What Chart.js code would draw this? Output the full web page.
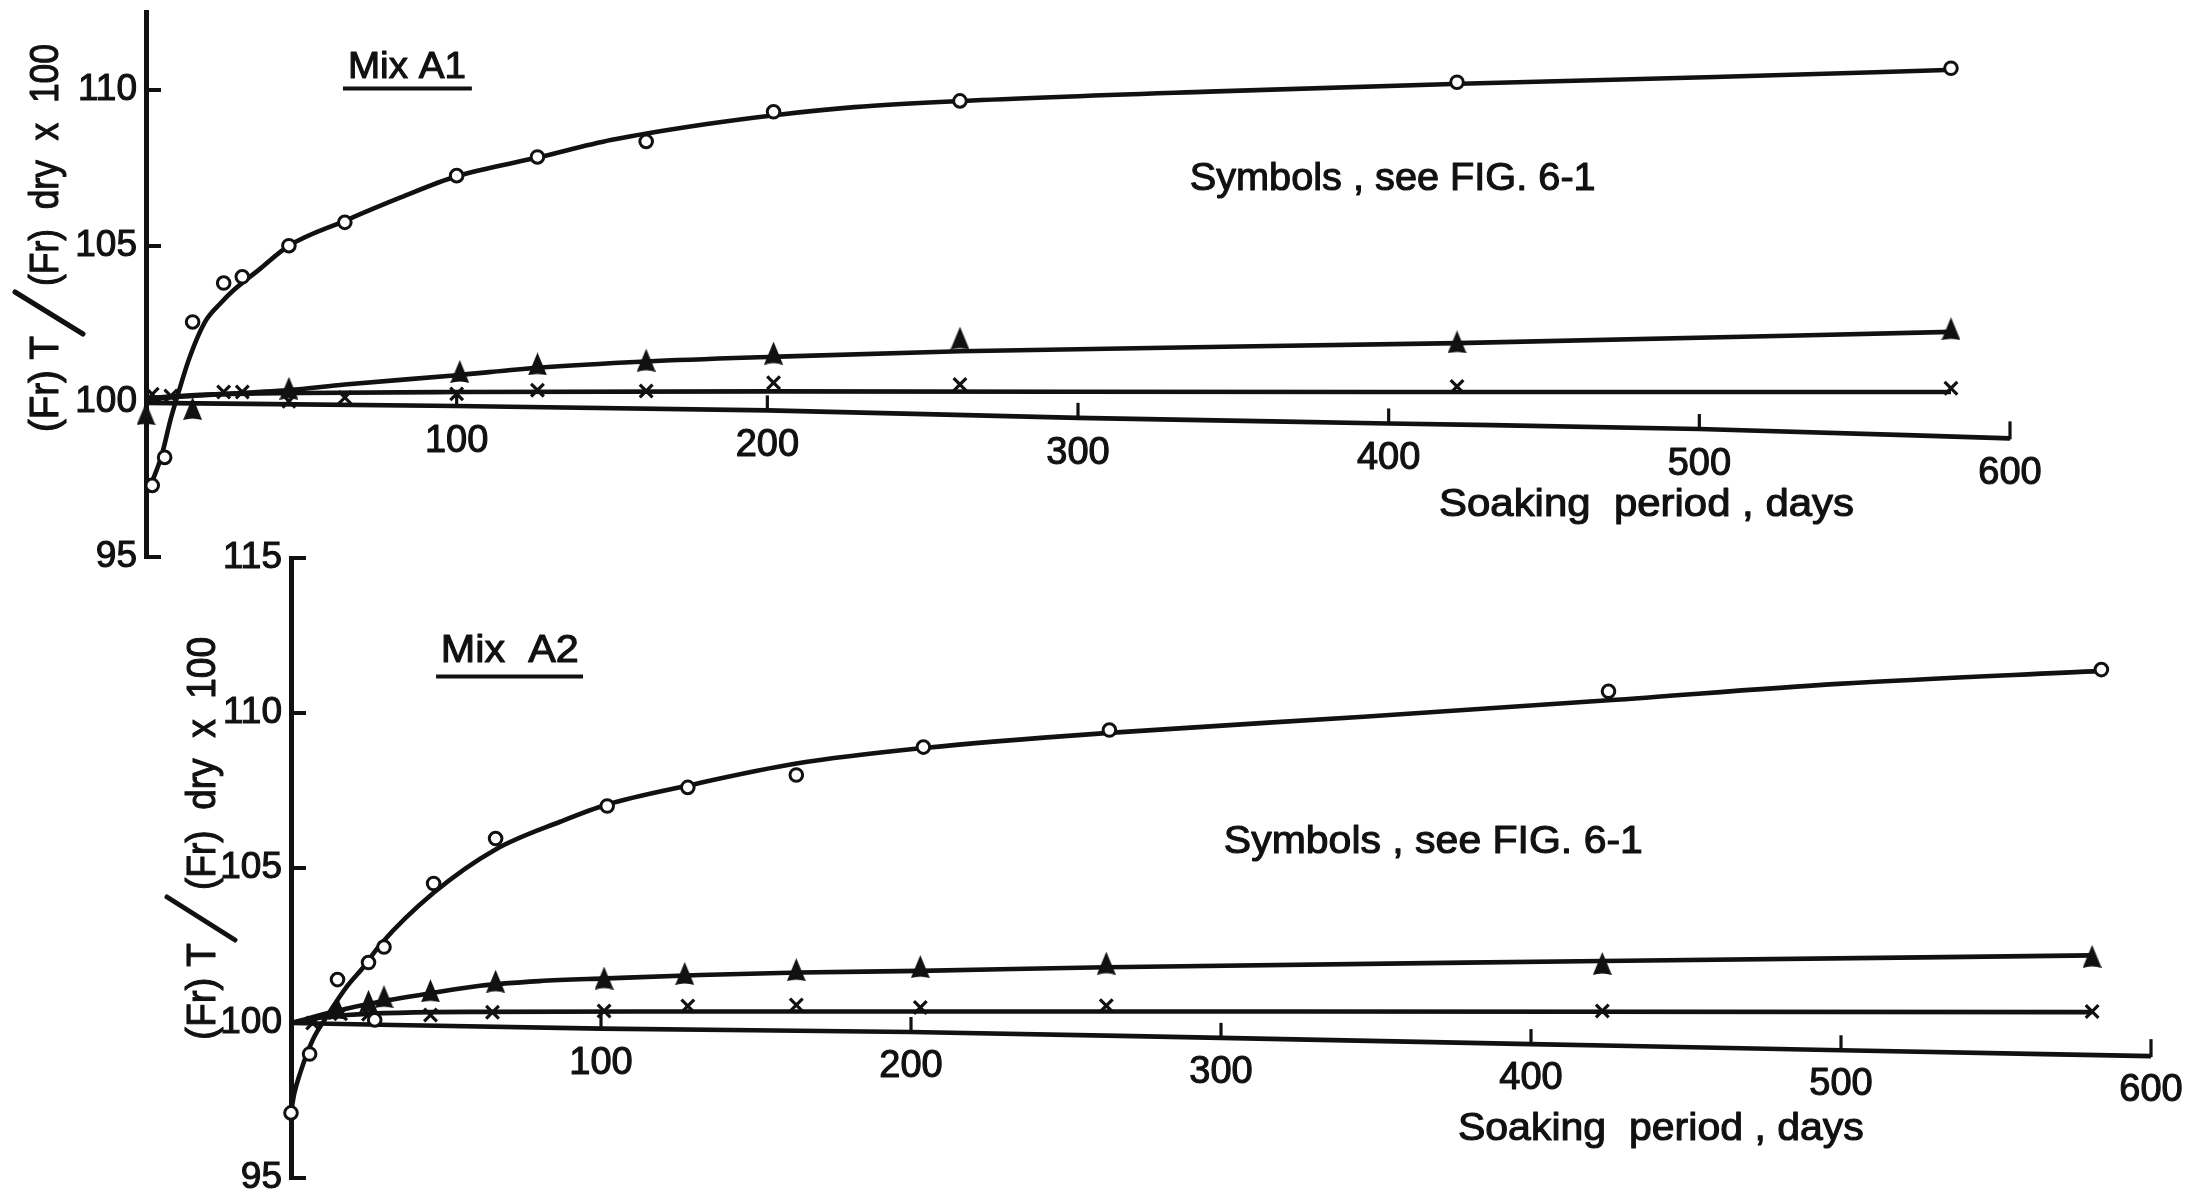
<!DOCTYPE html>
<html>
<head>
<meta charset="utf-8">
<title>Soaking period – Mix A1 / Mix A2</title>
<script src="https://cdn.jsdelivr.net/npm/chart.js@4.4.1/dist/chart.umd.min.js"></script>
<style>
  html, body { margin: 0; padding: 0; background: #fff; }
  body { width: 2186px; height: 1198px; position: relative; overflow: hidden; }
  canvas { position: absolute; left: 0; top: 0; }
</style>
</head>
<body>
<canvas id="mixA1" width="2186" height="1198"></canvas>
<canvas id="mixA2" width="2186" height="1198"></canvas>
<script>
// ---------- axes ----------
const dayTicks = [100, 200, 300, 400, 500, 600];
const axisDays = [0, 100, 200, 300, 400, 500, 600];
// the drawn day axis sags a little towards the right-hand end
const a1AxisValues = [99.95, 99.85, 99.71, 99.47, 99.29, 99.11, 98.81];
const a2AxisValues = [100.0, 99.82, 99.71, 99.52, 99.32, 99.12, 98.93];
const a1ValueTicks = [95, 100, 105, 110];
const a2ValueTicks = [95, 100, 105, 110, 115];

// ---------- Mix A1 ----------
const a1CircleDays   = [2, 6, 15, 25, 31, 46, 64, 100, 126, 161, 202, 262, 422, 581];
const a1CircleValues = [97.3, 98.2, 102.55, 103.8, 104.0, 105.0, 105.75, 107.25, 107.85, 108.35, 109.3, 109.65, 110.25, 110.7];
const a1TriangleDays   = [0, 15, 46, 101, 126, 161, 202, 262, 422, 581];
const a1TriangleValues = [99.6, 99.77, 100.42, 100.96, 101.2, 101.32, 101.55, 102.03, 101.91, 102.33];
const a1CrossDays   = [2, 8, 25, 31, 46, 64, 100, 126, 161, 202, 262, 422, 581];
const a1CrossValues = [100.23, 100.17, 100.3, 100.3, 100.0, 100.12, 100.24, 100.36, 100.33, 100.6, 100.54, 100.48, 100.42];

const a1CircleFitDays   = [1.3, 5, 8, 10.5, 14, 19, 24, 28, 36, 46, 64, 82, 100, 126, 150, 180, 203, 228, 263, 342, 423, 505, 582];
const a1CircleFitValues = [97.25, 98.25, 99.45, 100.3, 101.4, 102.55, 103.15, 103.55, 104.2, 105.0, 105.8, 106.55, 107.23, 107.83, 108.4, 108.9, 109.2, 109.45, 109.65, 109.95, 110.2, 110.42, 110.65];
const a1TriangleFitDays   = [0, 11, 46, 64, 100, 126, 161, 202, 262, 422, 581];
const a1TriangleFitValues = [100.05, 100.15, 100.36, 100.54, 100.84, 101.08, 101.28, 101.43, 101.61, 101.87, 102.23];
const a1CrossFitDays   = [0, 20, 50, 100, 200, 400, 581];
const a1CrossFitValues = [100.1, 100.22, 100.27, 100.3, 100.32, 100.3, 100.3];

// ---------- Mix A2 ----------
const a2CircleDays   = [0, 6, 15, 25, 27, 30, 46, 66, 102, 128, 163, 204, 264, 425, 584];
const a2CircleValues = [97.1, 99.0, 101.4, 101.95, 100.1, 102.45, 104.5, 105.95, 107.0, 107.6, 108.0, 108.9, 109.45, 110.7, 111.4];
const a2TriangleDays   = [15, 25, 30, 45, 66, 101, 127, 163, 203, 263, 423, 581];
const a2TriangleValues = [100.47, 100.7, 100.85, 101.04, 101.35, 101.45, 101.6, 101.72, 101.82, 101.93, 101.92, 102.15];
const a2CrossDays   = [7, 16, 25, 45, 65, 101, 128, 163, 203, 263, 423, 581];
const a2CrossValues = [100.0, 100.3, 100.28, 100.26, 100.35, 100.39, 100.55, 100.58, 100.5, 100.56, 100.39, 100.37];

const a2CircleFitDays   = [0, 1, 3, 7, 11.5, 18, 23, 29, 46, 66, 87, 102, 128, 163, 204, 264, 346, 425, 499, 584];
const a2CircleFitValues = [97.1, 97.7, 98.4, 99.45, 100.2, 101.17, 101.76, 102.55, 104.2, 105.6, 106.5, 107.05, 107.66, 108.37, 108.87, 109.36, 109.88, 110.41, 110.94, 111.36];
const a2TriangleFitDays   = [0, 14, 29, 45, 61, 80, 102, 132, 164, 203, 263, 423, 581];
const a2TriangleFitValues = [100.0, 100.37, 100.69, 100.96, 101.2, 101.35, 101.44, 101.55, 101.63, 101.68, 101.8, 102.0, 102.18];
const a2CrossFitDays   = [0, 8, 18, 61, 132, 300, 581];
const a2CrossFitValues = [100.0, 100.15, 100.26, 100.36, 100.37, 100.37, 100.35];

// ---------- drawing ----------
const INK = '#111';
const FONT = "'Liberation Sans', Arial, sans-serif";
Chart.defaults.font.family = FONT;
Chart.defaults.color = INK;

// solid triangle used as a marker
function triangleMark(w, h) {
  const c = document.createElement('canvas');
  c.width = w; c.height = h;
  const g = c.getContext('2d');
  g.fillStyle = INK;
  g.beginPath();
  g.moveTo(w / 2, 0);
  g.lineTo(w, h);
  g.quadraticCurveTo(w / 2, h - 3, 0, h);
  g.closePath();
  g.fill();
  return c;
}
const TRIANGLE = triangleMark(19, 23);

// text fitted horizontally to a given width, with a slightly heavy stroke
function fitText(ctx, text, x, y, size, width, align, baseline) {
  ctx.save();
  ctx.font = size + 'px ' + FONT;
  const natural = ctx.measureText(text).width;
  const sx = width ? width / natural : 1;
  ctx.translate(x, y);
  ctx.scale(sx, 1);
  ctx.textAlign = align || 'center';
  ctx.textBaseline = baseline || 'alphabetic';
  ctx.lineWidth = 1.1;
  ctx.lineJoin = 'round';
  ctx.fillText(text, 0, 0);
  ctx.strokeText(text, 0, 0);
  ctx.restore();
}

const panelDecor = {
  id: 'panelDecor',
  afterDraw(chart, args, o) {
    const { ctx } = chart;
    const xs = chart.scales.x, ys = chart.scales.y;
    const at = (d, v) => [xs.getPixelForValue(d), ys.getPixelForValue(v)];
    ctx.save();
    ctx.fillStyle = INK;
    ctx.strokeStyle = INK;

    // tick marks and labels along the day axis
    axisDays.forEach((d, i) => {
      if (!dayTicks.includes(d)) return;
      const [px, py] = at(d, o.axisValues[i]);
      ctx.lineWidth = 3.2;
      ctx.beginPath();
      ctx.moveTo(px, py + 1);
      ctx.lineTo(px, py - (d === 600 ? 17 : 15));
      ctx.stroke();
      fitText(ctx, String(d), px, py + o.labelDrop, 38, 0, 'center');
    });

    // vertical quantity label: (Fr) T / (Fr) dry x 100
    const t = o.title;
    ctx.save();
    ctx.translate(t.x, t.bottom);
    ctx.rotate(-Math.PI / 2);
    fitText(ctx, '(Fr) T', 0, 0, 40, t.leadLen, 'left', 'middle');
    fitText(ctx, '(Fr)  dry  x  100', t.tailAt, 0, 40, t.tailLen, 'left', 'middle');
    ctx.restore();
    // the fraction bar between numerator and denominator
    ctx.lineWidth = 5;
    ctx.lineCap = 'round';
    ctx.beginPath();
    ctx.moveTo(t.x + t.bar[0], t.bottom - t.bar[1]);
    ctx.lineTo(t.x + t.bar[2], t.bottom - t.bar[3]);
    ctx.stroke();
    ctx.lineCap = 'butt';

    // panel name, underlined
    const m = o.mix;
    const [mx, my] = at(m.day, m.value);
    fitText(ctx, m.text, mx, my, m.size, m.width, 'center');
    const [u1, uy] = at(m.lineFrom, m.lineValue);
    const [u2] = at(m.lineTo, m.lineValue);
    ctx.lineWidth = 4;
    ctx.beginPath();
    ctx.moveTo(u1, uy);
    ctx.lineTo(u2, uy);
    ctx.stroke();

    // notes
    o.notes.forEach(n => {
      const [nx, ny] = at(n.day, n.value);
      fitText(ctx, n.text, nx, ny, n.size, n.width, 'center');
    });
    ctx.restore();
  }
};

const pts = (days, values) => days.map((d, i) => ({ x: d, y: values[i] }));

function markers(data, style, radius, border) {
  return {
    data, showLine: false, clip: false,
    pointStyle: style, pointRadius: radius, pointHoverRadius: radius,
    pointBorderWidth: border, pointBorderColor: INK,
    pointBackgroundColor: style === 'circle' ? '#fff' : INK
  };
}
function curve(data, width) {
  return {
    data, clip: false, fill: false,
    borderColor: INK, borderWidth: width,
    cubicInterpolationMode: 'monotone',
    pointRadius: 0, pointHoverRadius: 0
  };
}

function panel(id, p) {
  return new Chart(document.getElementById(id), {
    type: 'line',
    data: {
      datasets: [
        markers(pts(p.circleDays, p.circleValues), 'circle', 6.3, 3),
        markers(pts(p.triangleDays, p.triangleValues), TRIANGLE, 11, 0),
        markers(pts(p.crossDays, p.crossValues), 'crossRot', 9, 3.2),
        curve(pts(p.circleFitDays, p.circleFitValues), 4.6),
        curve(pts(p.triangleFitDays, p.triangleFitValues), 4.6),
        curve(pts(p.crossFitDays, p.crossFitValues), 4.6),
        curve(pts(axisDays, p.axisValues), 4.6)
      ]
    },
    options: {
      responsive: false,
      animation: false,
      events: [],
      layout: { padding: p.padding },
      plugins: {
        legend: { display: false },
        tooltip: { enabled: false },
        panelDecor: p.decor
      },
      scales: {
        x: { type: 'linear', min: 0, max: 600, display: false },
        y: {
          type: 'linear', min: p.yMin, max: p.yMax,
          afterBuildTicks: s => { s.ticks = p.valueTicks.map(v => ({ value: v })); },
          afterFit: s => { s.width = 80; s.paddingTop = 0; s.paddingBottom = 0; },
          border: { display: true, color: INK, width: 5 },
          grid: { display: true, drawOnChartArea: false, drawTicks: true, tickLength: -15, lineWidth: 4, color: INK },
          ticks: { color: INK, font: { family: FONT, size: 37 }, padding: 24, textStrokeColor: INK, textStrokeWidth: 1.1 }
        }
      }
    },
    plugins: [panelDecor]
  });
}

panel('mixA1', {
  circleDays: a1CircleDays, circleValues: a1CircleValues,
  triangleDays: a1TriangleDays, triangleValues: a1TriangleValues,
  crossDays: a1CrossDays, crossValues: a1CrossValues,
  circleFitDays: a1CircleFitDays, circleFitValues: a1CircleFitValues,
  triangleFitDays: a1TriangleFitDays, triangleFitValues: a1TriangleFitValues,
  crossFitDays: a1CrossFitDays, crossFitValues: a1CrossFitValues,
  axisValues: a1AxisValues, valueTicks: a1ValueTicks,
  yMin: 95, yMax: 112.5,
  padding: { left: 66, top: 12, right: 176, bottom: 641 },
  decor: {
    axisValues: a1AxisValues, labelDrop: 46,
    title: { x: 47, bottom: 432, leadLen: 96, tailAt: 146, tailLen: 242, bar: [-32, 140, 36, 98] },
    mix: { text: 'Mix A1', day: 84, value: 110.4, size: 36, width: 118, lineFrom: 63.4, lineTo: 104.9, lineValue: 110.05 },
    notes: [
      { text: 'Symbols , see FIG. 6-1', day: 401.3, value: 106.79, size: 39, width: 406 },
      { text: 'Soaking  period , days', day: 483, value: 96.32, size: 39, width: 415 }
    ]
  }
});

panel('mixA2', {
  circleDays: a2CircleDays, circleValues: a2CircleValues,
  triangleDays: a2TriangleDays, triangleValues: a2TriangleValues,
  crossDays: a2CrossDays, crossValues: a2CrossValues,
  circleFitDays: a2CircleFitDays, circleFitValues: a2CircleFitValues,
  triangleFitDays: a2TriangleFitDays, triangleFitValues: a2TriangleFitValues,
  crossFitDays: a2CrossFitDays, crossFitValues: a2CrossFitValues,
  axisValues: a2AxisValues, valueTicks: a2ValueTicks,
  yMin: 95, yMax: 115,
  padding: { left: 211, top: 558, right: 35, bottom: 20 },
  decor: {
    axisValues: a2AxisValues, labelDrop: 45,
    title: { x: 204, bottom: 1040, leadLen: 97, tailAt: 150, tailLen: 253, bar: [-37, 143, 31, 100] },
    mix: { text: 'Mix  A2', day: 70.6, value: 111.66, size: 38, width: 138, lineFrom: 46.8, lineTo: 94.2, lineValue: 111.18 },
    notes: [
      { text: 'Symbols , see FIG. 6-1', day: 368.5, value: 105.48, size: 39, width: 419 },
      { text: 'Soaking  period , days', day: 441.9, value: 96.23, size: 39, width: 406 }
    ]
  }
});
</script>
</body>
</html>
